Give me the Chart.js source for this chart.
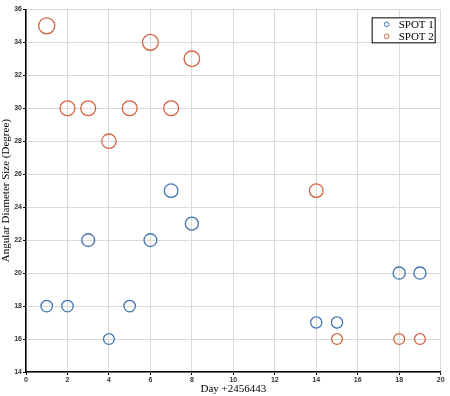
<!DOCTYPE html>
<html>
<head>
<meta charset="utf-8">
<script src="https://cdn.jsdelivr.net/npm/chart.js@4/dist/chart.umd.min.js"></script>
<style>
  html, body { margin: 0; padding: 0; background: #fff; }
  #wrap { width: 450px; height: 396px; position: relative; }
</style>
</head>
<body>
<div id="wrap"><canvas id="c"></canvas></div>
<script>
const spot1Days = [1, 2, 3, 4, 5, 6, 7, 8, 14, 15, 18, 19];
const spot1Size = [18, 18, 22, 16, 18, 22, 25, 23, 17, 17, 20, 20];
const spot2Days = [1, 2, 3, 4, 5, 6, 7, 8, 14, 15, 18, 19];
const spot2Size = [35, 30, 30, 28, 30, 34, 30, 33, 25, 16, 16, 16];

const COLORS = {
  spot1: '#4275b4',  // blue
  spot2: '#d4633f',  // orange-red
};

const toPts = (xs, ys) => xs.map((x, i) => ({ x, y: ys[i] }));
// marker area grows with the value
const radius = (ctx) => 1.36 * Math.sqrt(ctx.raw.y);

const tickFont = { family: "'Liberation Sans', Arial, sans-serif", size: 7, weight: 'bold' };
const titleFont = { family: "'Liberation Serif', 'Times New Roman', serif", size: 11 };

// boxed legend in the top-right corner of the plot
const boxLegend = {
  id: 'boxLegend',
  afterDraw(chart) {
    const { ctx, chartArea } = chart;
    const w = 63, h = 25;
    const x0 = chartArea.right - 6 - w;
    const y0 = chartArea.top + 8;
    ctx.save();
    ctx.fillStyle = '#fff';
    ctx.fillRect(x0, y0, w, h);
    ctx.strokeStyle = '#000';
    ctx.lineWidth = 1;
    ctx.strokeRect(x0 + 0.5, y0 + 0.5, w, h);
    ctx.font = "11px 'Liberation Serif', serif";
    ctx.textBaseline = 'middle';
    chart.data.datasets.forEach((ds, i) => {
      const cy = y0 + 7 + i * 12;
      ctx.beginPath();
      ctx.arc(x0 + 15, cy, 2.3, 0, Math.PI * 2);
      ctx.strokeStyle = ds.borderColor;
      ctx.lineWidth = 1;
      ctx.stroke();
      ctx.fillStyle = '#000';
      ctx.fillText(ds.label, x0 + 27, cy + 0.5);
    });
    ctx.restore();
  },
};

new Chart(document.getElementById('c'), {
  type: 'scatter',
  data: {
    datasets: [
      {
        label: 'SPOT 1',
        data: toPts(spot1Days, spot1Size),
        borderColor: COLORS.spot1,
        backgroundColor: 'transparent',
        borderWidth: 1.3,
        pointRadius: radius,
        pointHoverRadius: radius,
      },
      {
        label: 'SPOT 2',
        data: toPts(spot2Days, spot2Size),
        borderColor: COLORS.spot2,
        backgroundColor: 'transparent',
        borderWidth: 1.3,
        pointRadius: radius,
        pointHoverRadius: radius,
      },
    ],
  },
  options: {
    responsive: true,
    maintainAspectRatio: false,
    animation: false,
    layout: { padding: { top: 4, right: 5, left: 0, bottom: 0 } },
    scales: {
      x: {
        type: 'linear',
        min: 0,
        max: 20,
        afterFit: (s) => { s.height = 24; },
        grid: { color: '#dadada', tickColor: '#000', tickLength: 3, drawTicks: true },
        border: { color: '#000', width: 1.5 },
        ticks: { stepSize: 2, color: '#333', font: tickFont, padding: 1, maxRotation: 0 },
        title: { display: true, text: 'Day +2456443', color: '#000', font: titleFont, padding: { top: 0, bottom: 0 } },
      },
      y: {
        type: 'linear',
        min: 14,
        max: 36,
        afterFit: (s) => { s.width = 26; },
        grid: { color: '#dadada', tickColor: '#000', tickLength: 3, drawTicks: true },
        border: { color: '#000', width: 1.5 },
        ticks: { stepSize: 2, color: '#333', font: tickFont, padding: 1 },
        title: { display: true, text: 'Angular Diameter Size (Degree)', color: '#000', font: titleFont, padding: { top: 0, bottom: 0 } },
      },
    },
    plugins: {
      legend: { display: false },
      tooltip: { enabled: false },
    },
  },
  plugins: [boxLegend],
});
</script>
</body>
</html>
